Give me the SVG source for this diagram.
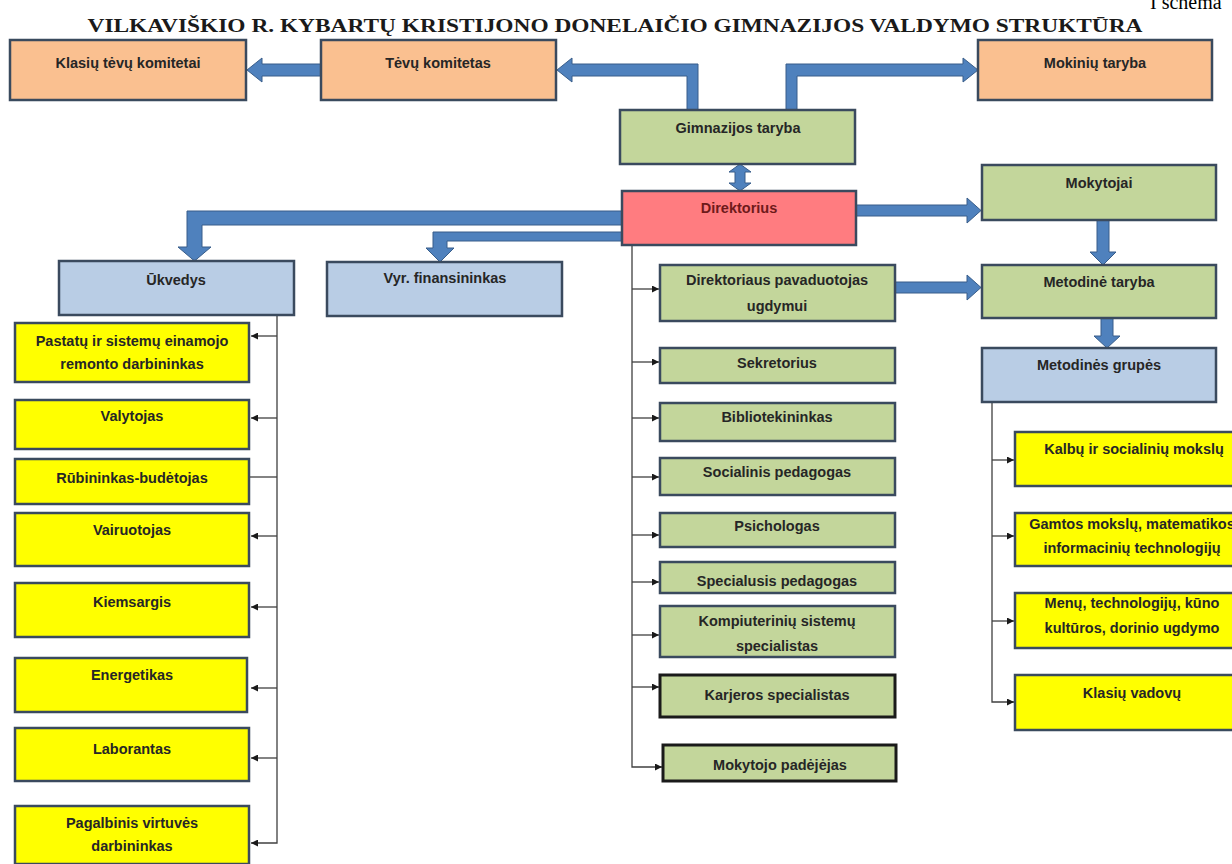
<svg xmlns="http://www.w3.org/2000/svg" width="1232" height="864" viewBox="0 0 1232 864">
<defs>
<style>
.b{stroke:#3A4A5E;stroke-width:2.5}
.bk{stroke:#1a1a1a;stroke-width:3}
.or{fill:#FAC090}
.gr{fill:#C3D69B}
.bl{fill:#B9CDE5}
.ye{fill:#FFFF00}
.rd{fill:#FF7C80}
.t{font-family:"Liberation Sans",Arial,sans-serif;font-weight:bold;font-size:14.5px;fill:#262626;text-anchor:middle}
.ba{fill:#4F81BD;stroke:#385D8A;stroke-width:1}
.ln{fill:none;stroke:#404040;stroke-width:1.3}
</style>
<marker id="ah" viewBox="0 0 10 10" refX="10" refY="5" markerWidth="7" markerHeight="7" markerUnits="userSpaceOnUse" orient="auto">
<path d="M0,0 L10,5 L0,10 z" fill="#1a1a1a"/>
</marker>
</defs>
<rect width="1232" height="864" fill="#ffffff"/>
<text x="1150" y="9" font-family="'Liberation Serif',serif" font-size="20" fill="#000">I schema</text>
<text x="615" y="32" font-family="'Liberation Serif',serif" font-weight="bold" font-size="18" fill="#1a1a1a" text-anchor="middle" textLength="1055" lengthAdjust="spacingAndGlyphs">VILKAVIŠKIO R. KYBARTŲ KRISTIJONO DONELAIČIO GIMNAZIJOS VALDYMO STRUKTŪRA</text>

<g id="connectors">
<polygon class="ba" points="321,64 262,64 262,58 247,70 262,82 262,76 321,76"/>
<polygon class="ba" points="687,110 687,76 572,76 572,82 557,70 572,58 572,64 698,64 698,110"/>
<polygon class="ba" points="786,110 786,64 963,64 963,58 978,70 963,82 963,76 797,76 797,110"/>
<polygon class="ba" points="735,172 729,172 740,164 751,172 745,172 745,183 751,183 740,191 729,183 735,183"/>
<polygon class="ba" points="622,211 187,211 187,247 178,247 194.5,261 211,247 202,247 202,225 622,225"/>
<polygon class="ba" points="622,232 433,232 433,248 426,248 440,262 454,248 447,248 447,241 622,241"/>
<polygon class="ba" points="856,205 967,205 967,198 981,210.5 967,223 967,216 856,216"/>
<polygon class="ba" points="895,282 967,282 967,275 981,287.5 967,300 967,293 895,293"/>
<polygon class="ba" points="1097,220 1097,252 1090,252 1103,265 1116,252 1109,252 1109,220"/>
<polygon class="ba" points="1101,318 1101,336 1094,336 1107,348 1120,336 1113,336 1113,318"/>

<path class="ln" d="M277,315 V843 H251" marker-end="url(#ah)"/>
<path class="ln" d="M277,336 H251" marker-end="url(#ah)"/>
<path class="ln" d="M277,418 H251" marker-end="url(#ah)"/>
<path class="ln" d="M277,477 H250"/>
<path class="ln" d="M277,536 H251" marker-end="url(#ah)"/>
<path class="ln" d="M277,607 H251" marker-end="url(#ah)"/>
<path class="ln" d="M277,688 H251" marker-end="url(#ah)"/>
<path class="ln" d="M277,758 H251" marker-end="url(#ah)"/>

<path class="ln" d="M632,245 V767 H662" marker-end="url(#ah)"/>
<path class="ln" d="M632,289 H659" marker-end="url(#ah)"/>
<path class="ln" d="M632,362 H659" marker-end="url(#ah)"/>
<path class="ln" d="M632,418 H659" marker-end="url(#ah)"/>
<path class="ln" d="M632,477 H659" marker-end="url(#ah)"/>
<path class="ln" d="M632,535 H659" marker-end="url(#ah)"/>
<path class="ln" d="M632,582 H659" marker-end="url(#ah)"/>
<path class="ln" d="M632,635 H659" marker-end="url(#ah)"/>
<path class="ln" d="M632,687 H659" marker-end="url(#ah)"/>

<path class="ln" d="M992,402 V702 H1014" marker-end="url(#ah)"/>
<path class="ln" d="M992,460 H1014" marker-end="url(#ah)"/>
<path class="ln" d="M992,536 H1014" marker-end="url(#ah)"/>
<path class="ln" d="M992,621 H1014" marker-end="url(#ah)"/>
</g>

<g id="klasiu-tevu-komitetai"><rect class="or b" x="10" y="40" width="236" height="60"/><text class="t" x="128" y="68">Klasių tėvų komitetai</text></g>
<g id="tevu-komitetas"><rect class="or b" x="321" y="40" width="235" height="60"/><text class="t" x="438" y="68">Tėvų komitetas</text></g>
<g id="mokiniu-taryba"><rect class="or b" x="978" y="40" width="234" height="60"/><text class="t" x="1095" y="68">Mokinių taryba</text></g>
<g id="gimnazijos-taryba"><rect class="gr b" x="620" y="110" width="235" height="54"/><text class="t" x="738" y="133">Gimnazijos taryba</text></g>
<g id="direktorius"><rect class="rd b" x="622" y="191" width="234" height="54"/><text class="t" x="739" y="213" style="fill:#6E1A1A">Direktorius</text></g>
<g id="mokytojai"><rect class="gr b" x="982" y="165" width="234" height="55"/><text class="t" x="1099" y="188">Mokytojai</text></g>
<g id="metodine-taryba"><rect class="gr b" x="982" y="265" width="234" height="53"/><text class="t" x="1099" y="287">Metodinė taryba</text></g>
<g id="metodines-grupes"><rect class="bl b" x="982" y="348" width="234" height="54"/><text class="t" x="1099" y="370">Metodinės grupės</text></g>
<g id="ukvedys"><rect class="bl b" x="59" y="261" width="235" height="54"/><text class="t" x="176" y="285">Ūkvedys</text></g>
<g id="vyr-finansininkas"><rect class="bl b" x="327" y="262" width="235" height="54"/><text class="t" x="445" y="283">Vyr. finansininkas</text></g>

<g id="pastatu"><rect class="ye b" x="15" y="323" width="234" height="59"/><text class="t" x="132" y="346">Pastatų ir sistemų einamojo</text><text class="t" x="132" y="369">remonto darbininkas</text></g>
<g id="valytojas"><rect class="ye b" x="15" y="400" width="234" height="49"/><text class="t" x="132" y="421">Valytojas</text></g>
<g id="rubininkas"><rect class="ye b" x="15" y="459" width="234" height="45"/><text class="t" x="132" y="483">Rūbininkas-budėtojas</text></g>
<g id="vairuotojas"><rect class="ye b" x="15" y="513" width="234" height="53"/><text class="t" x="132" y="535">Vairuotojas</text></g>
<g id="kiemsargis"><rect class="ye b" x="15" y="583" width="234" height="54"/><text class="t" x="132" y="607">Kiemsargis</text></g>
<g id="energetikas"><rect class="ye b" x="15" y="658" width="232" height="54"/><text class="t" x="132" y="680">Energetikas</text></g>
<g id="laborantas"><rect class="ye b" x="15" y="728" width="234" height="53"/><text class="t" x="132" y="754">Laborantas</text></g>
<g id="pagalbinis"><rect class="ye b" x="15" y="806" width="234" height="58"/><text class="t" x="132" y="828">Pagalbinis virtuvės</text><text class="t" x="132" y="851">darbininkas</text></g>

<g id="dir-pavaduotojas"><rect class="gr b" x="660" y="265" width="235" height="56"/><text class="t" x="777" y="285">Direktoriaus pavaduotojas</text><text class="t" x="777" y="311">ugdymui</text></g>
<g id="sekretorius"><rect class="gr b" x="660" y="348" width="235" height="35"/><text class="t" x="777" y="368">Sekretorius</text></g>
<g id="bibliotekininkas"><rect class="gr b" x="660" y="403" width="235" height="38"/><text class="t" x="777" y="422">Bibliotekininkas</text></g>
<g id="socialinis-pedagogas"><rect class="gr b" x="660" y="458" width="235" height="37"/><text class="t" x="777" y="477">Socialinis pedagogas</text></g>
<g id="psichologas"><rect class="gr b" x="660" y="513" width="235" height="34"/><text class="t" x="777" y="531">Psichologas</text></g>
<g id="specialusis-pedagogas"><rect class="gr b" x="660" y="562" width="235" height="31"/><text class="t" x="777" y="586">Specialusis pedagogas</text></g>
<g id="kompiuteriniu"><rect class="gr b" x="660" y="606" width="235" height="51"/><text class="t" x="777" y="626">Kompiuterinių sistemų</text><text class="t" x="777" y="651">specialistas</text></g>
<g id="karjeros"><rect class="gr bk" x="660" y="675" width="235" height="42"/><text class="t" x="777" y="700">Karjeros specialistas</text></g>
<g id="mokytojo-padejejas"><rect class="gr bk" x="663" y="745" width="233" height="36"/><text class="t" x="780" y="770">Mokytojo padėjėjas</text></g>

<g id="kalbu"><rect class="ye b" x="1015" y="432" width="235" height="54"/><text class="t" x="1134" y="454">Kalbų ir socialinių mokslų</text></g>
<g id="gamtos"><rect class="ye b" x="1015" y="513" width="235" height="53"/><text class="t" x="1132" y="529">Gamtos mokslų, matematikos</text><text class="t" x="1132" y="553">informacinių technologijų</text></g>
<g id="menu"><rect class="ye b" x="1015" y="593" width="235" height="55"/><text class="t" x="1132" y="608">Menų, technologijų, kūno</text><text class="t" x="1132" y="633">kultūros, dorinio ugdymo</text></g>
<g id="klasiu-vadovu"><rect class="ye b" x="1015" y="675" width="235" height="55"/><text class="t" x="1132" y="698">Klasių vadovų</text></g>
</svg>
